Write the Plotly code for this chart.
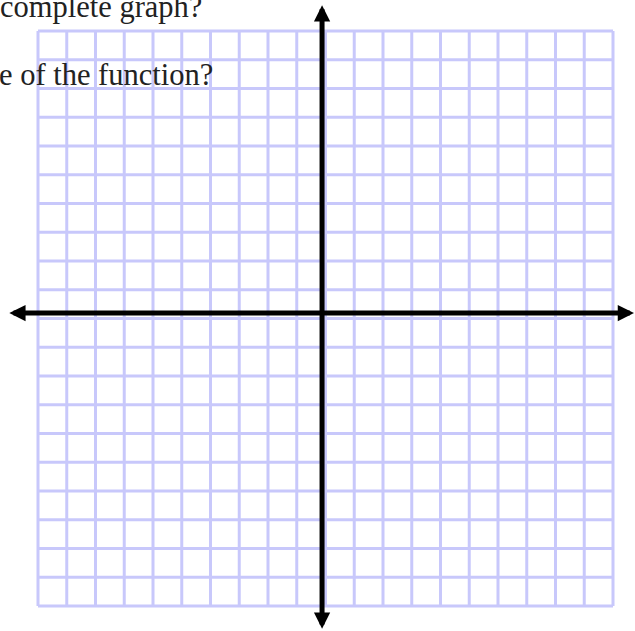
import plotly.graph_objects as go

# Coordinate grid: one line per integer from -10 to 10 on both axes
grid_ticks = list(range(-10, 11))

# Axis lines (with arrowheads at both ends), in data units
x_axis_y = 0.19          # horizontal axis height
y_axis_x = -0.12         # vertical axis position
x_axis_span = [-11.05, 10.73]
y_axis_span = [-10.84, 10.90]

# Text lines printed above the grid
text_lines = ["complete graph?", "e of the function?"]

GRID_COLOR = "#c8c8fb"
W, H = 635, 631
UNIT = 28.75  # pixels per grid unit

x_range = [-10 - 38 / UNIT, -10 + (W - 38) / UNIT]
y_range = [10 - (H - 31) / UNIT, 10 + 31 / UNIT]

fig = go.Figure()

shapes = []
lo, hi = grid_ticks[0], grid_ticks[-1]
for t in grid_ticks:
    shapes.append(dict(type="line", xref="x", yref="y", x0=t, x1=t, y0=lo, y1=hi,
                       line=dict(color=GRID_COLOR, width=3), layer="below"))
    shapes.append(dict(type="line", xref="x", yref="y", x0=lo, x1=hi, y0=t, y1=t,
                       line=dict(color=GRID_COLOR, width=3), layer="below"))

annotations = [
    # horizontal axis
    dict(x=x_axis_span[1], y=x_axis_y, ax=x_axis_span[0], ay=x_axis_y,
         xref="x", yref="y", axref="x", ayref="y", text="", showarrow=True,
         arrowhead=2, startarrowhead=2, arrowside="end+start",
         arrowwidth=5, arrowsize=0.65, startarrowsize=0.65, arrowcolor="#000000"),
    # vertical axis
    dict(x=y_axis_x, y=y_axis_span[1], ax=y_axis_x, ay=y_axis_span[0],
         xref="x", yref="y", axref="x", ayref="y", text="", showarrow=True,
         arrowhead=2, startarrowhead=2, arrowside="end+start",
         arrowwidth=5, arrowsize=0.65, startarrowsize=0.65, arrowcolor="#000000"),
]

text_font = dict(family="Liberation Serif, Times New Roman, serif", size=30.5, color="#222222")
annotations.append(dict(x=0, y=1, xref="paper", yref="paper", xanchor="left", yanchor="top",
                        xshift=-2, yshift=12, text=text_lines[0], showarrow=False, font=text_font))
annotations.append(dict(x=0, y=1, xref="paper", yref="paper", xanchor="left", yanchor="top",
                        xshift=-3, yshift=-56, text=text_lines[1], showarrow=False, font=text_font))

fig.update_layout(
    width=W, height=H,
    margin=dict(l=0, r=0, t=0, b=0),
    paper_bgcolor="white", plot_bgcolor="white",
    xaxis=dict(range=x_range, visible=False, fixedrange=True),
    yaxis=dict(range=y_range, visible=False, fixedrange=True),
    shapes=shapes,
    annotations=annotations,
    showlegend=False,
)

fig.write_html("out.html")
